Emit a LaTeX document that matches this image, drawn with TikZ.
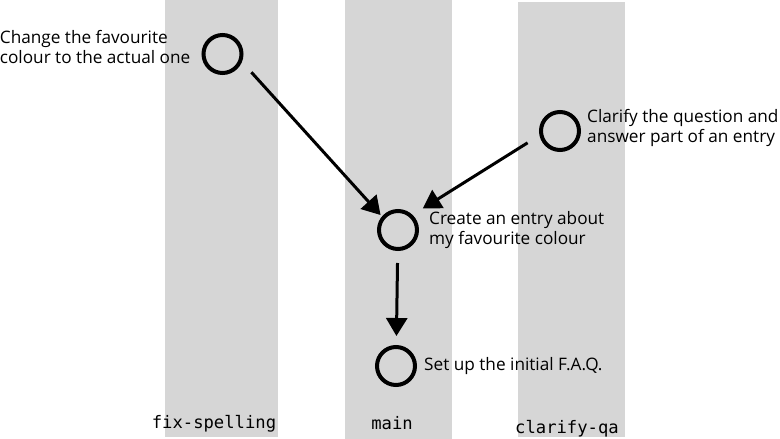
\documentclass[tikz,border=0pt]{standalone}
\usepackage{fontspec}
\setmainfont{Open Sans}
\setmonofont{DejaVu Sans Mono}
\usetikzlibrary{arrows.meta, positioning}

\begin{document}
\begin{tikzpicture}[
    x=1pt, y=-1pt,
    node distance=8pt,
    lane/.style={
      fill=black!16, 
      minimum height=437pt, 
      inner sep=0pt, 
      anchor=north
    },
    commit/.style={
      circle, 
      draw, 
      line width=4pt, 
      minimum size=38pt, 
      inner sep=0pt
    },
    msg/.style={
      align=left, 
      inner sep=0pt, 
      font=\fontsize{17.2}{20}\selectfont
    },
    branchname/.style={
      anchor=base, 
      inner sep=0pt, 
      font=\ttfamily\fontsize{17.2}{20}\selectfont
    },
    arrow/.style={
      -{Triangle[length=18pt, width=21pt]}, 
      line width=3pt
    }
]
\useasboundingbox (0,0) rectangle (780,439);

% Branch lanes
\node (fixlane) [lane, minimum width=113pt] at (221.5,0) {};
\node (mainlane) [lane, minimum width=107pt, minimum height=439pt] at (398.5,0) {};
\node (qalane) [lane, minimum width=107pt, minimum height=435pt] at (571.5,2) {};

% Branch names
\node (fixname) [branchname] at (214,428) {fix-spelling};
\node (mainname) [branchname] at (392,429) {main};
\node (qaname) [branchname] at (567,433) {clarify-qa};

% Commits on main
\node (initial) [commit] at (396,366) {};
\node [msg, right=7pt of initial] {Set up the initial F.A.Q.};

\node (entry) [commit] at (398,230) {};
\node [msg, right=10pt of entry] {Create an entry about\\my favourite colour};
\draw [arrow, shorten <=12pt, shorten >=9pt] (entry) -- (initial);

% Commit on fix-spelling
\node (spelling) [commit] at (222.5,54) {};
\node [msg, left=11pt of spelling, yshift=7pt] {Change the favourite\\colour to the actual one};
\draw [arrow, shorten <=14pt, shorten >=2pt] (spelling.-22) -- (entry.140);

% Commit on clarify-qa
\node (clarify) [commit] at (560,131) {};
\node [msg, right=6pt of clarify, yshift=3pt] {Clarify the question and\\answer part of an entry};
\draw [arrow, shorten <=14pt, shorten >=12pt] (clarify.192) -- (entry.46);

\end{tikzpicture}
\end{document}
